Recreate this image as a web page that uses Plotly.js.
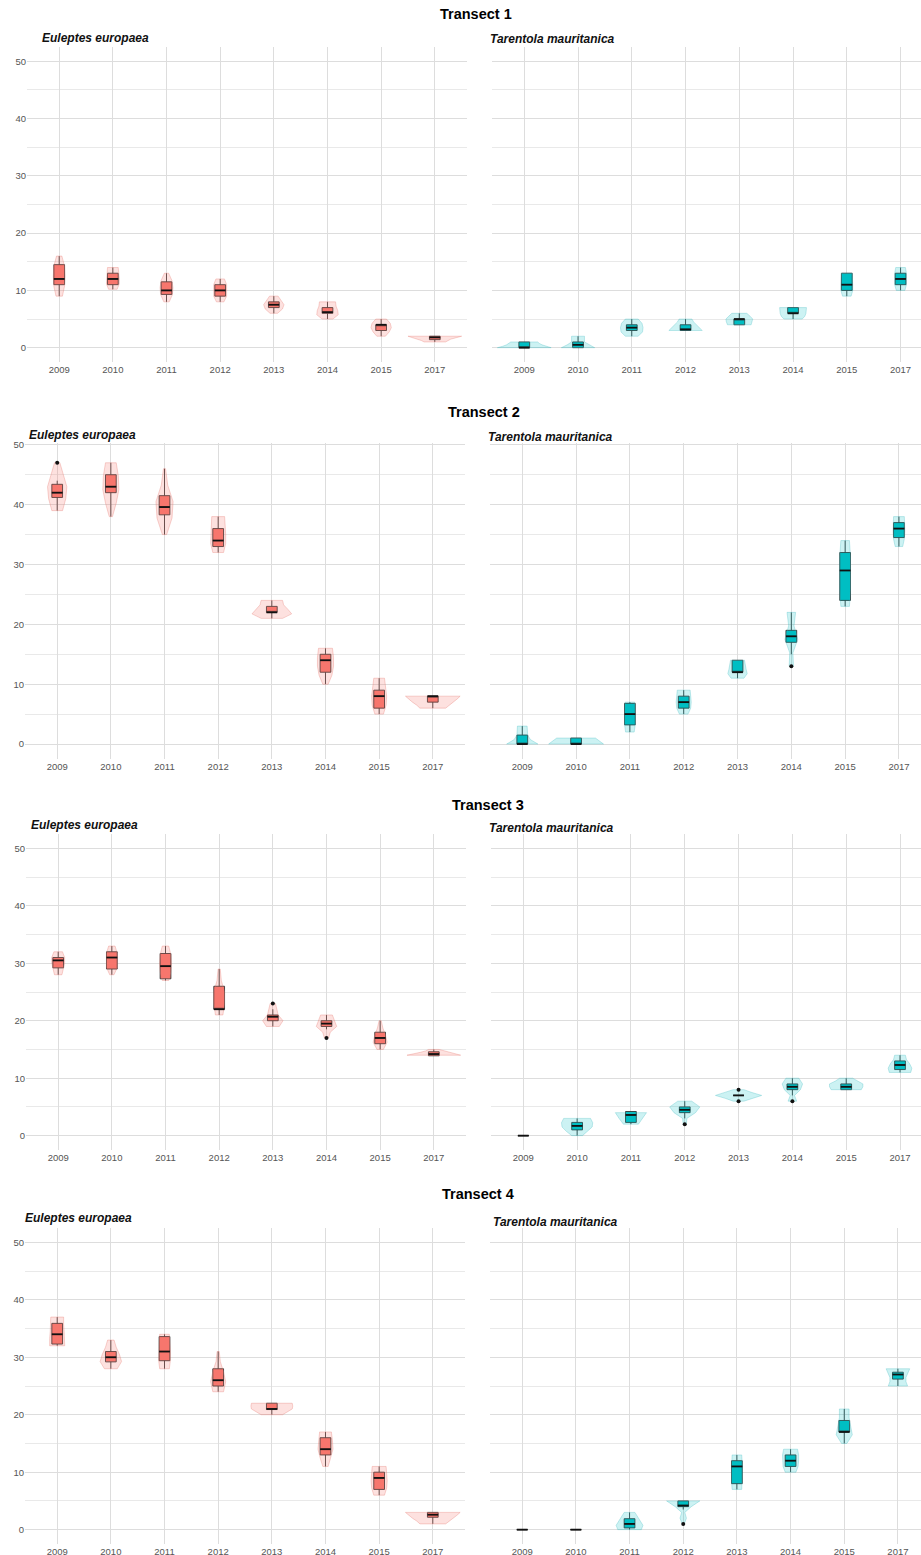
<!DOCTYPE html>
<html><head><meta charset="utf-8">
<script src="https://cdn.plot.ly/plotly-3.0.1.min.js"></script>
<style>html,body{margin:0;padding:0;background:#fff}</style>
</head><body><div id="chart" style="width:921px;height:1555px"></div>
<script>
const YEARS = ['2009','2010','2011','2012','2013','2014','2015','2017'];
const SPECIES = ['Euleptes europaea','Tarentola mauritanica'];
const TRANSECTS = ['Transect 1','Transect 2','Transect 3','Transect 4'];

// ---- Transect 1, Euleptes europaea ----
const T1E_q1  = [11, 11, 9.3, 9, 7, 6, 3, 1.4];
const T1E_med = [12, 12, 10, 10, 7.5, 6.2, 4, 1.8];
const T1E_q3  = [14.5, 13, 11.5, 11, 8, 7, 4, 2];
const T1E_lo  = [9, 10.2, 8, 8, 6, 5, 2, 1];
const T1E_hi  = [16, 14, 13, 12, 9, 8, 5, 2];
const T1E_out = [];
const T1E_vw  = [[0.06,0.1,0.11,0.1,0.05],[0.08,0.12,0.12,0.11,0.1],[0.05,0.11,0.12,0.1,0.04],[0.07,0.12,0.12,0.12,0.08],
                 [0.07,0.16,0.19,0.14,0.08],[0.1,0.2,0.19,0.16,0.15],[0.08,0.15,0.19,0.17,0.1],[0.2,0.25,0.3,0.4,0.5]];
// ---- Transect 1, Tarentola mauritanica ----
const T1T_q1  = [0, 0, 3, 3, 4, 6, 10, 11];
const T1T_med = [0, 0.5, 3.5, 3.2, 5, 6, 11, 12];
const T1T_q3  = [1, 1, 4, 4, 5, 7, 13, 13];
const T1T_lo  = [0, 0, 2, 3, 4, 5, 9, 10];
const T1T_hi  = [1, 2, 5, 5, 6, 7, 13, 14];
const T1T_out = [];
const T1T_vw  = [[0.5,0.4,0.33,0.28,0.25],[0.31,0.2,0.12,0.12,0.12],[0.12,0.2,0.21,0.19,0.12],[0.31,0.25,0.2,0.15,0.12],
                 [0.22,0.24,0.25,0.2,0.14],[0.17,0.22,0.24,0.25,0.25],[0.08,0.11,0.11,0.11,0.1],[0.08,0.11,0.11,0.11,0.09]];
// ---- Transect 2, Euleptes europaea ----
const T2E_q1  = [41.2, 42, 38.3, 33, 22, 12, 6, 7];
const T2E_med = [42, 43, 39.6, 34, 22, 14, 8, 8];
const T2E_q3  = [43.4, 45, 41.5, 36, 23, 15, 9, 8];
const T2E_lo  = [39, 38, 35, 32, 21, 10, 5, 6];
const T2E_hi  = [44, 47, 46, 38, 24, 16, 11, 8];
const T2E_out = [[0, 47]];
const T2E_vw  = [[0.1,0.16,0.18,0.12,0.05],[0.03,0.1,0.15,0.14,0.1],[0.04,0.14,0.16,0.06,0.02],[0.1,0.14,0.14,0.13,0.12],
                 [0.2,0.37,0.3,0.22,0.2],[0.05,0.12,0.15,0.15,0.13],[0.08,0.13,0.14,0.12,0.1],[0.24,0.3,0.38,0.45,0.51]];
// ---- Transect 2, Tarentola mauritanica ----
const T2T_q1  = [0, 0, 3.2, 6, 12, 17, 24, 34.5];
const T2T_med = [0, 0, 5, 7, 12, 18, 29, 36];
const T2T_q3  = [1.5, 1, 6.8, 8, 14, 19, 32, 37];
const T2T_lo  = [0, 0, 2, 5, 11, 15, 23, 33];
const T2T_hi  = [3, 1, 7, 9, 14, 22, 34, 38];
const T2T_out = [[5, 13]];
const T2T_vw  = [[0.29,0.15,0.1,0.09,0.09],[0.51,0.47,0.43,0.4,0.36],[0.08,0.1,0.1,0.1,0.09],[0.08,0.13,0.14,0.13,0.12],
                 [0.12,0.18,0.16,0.14,0.13],[0.04,0.03,0.12,0.05,0.08],[0.08,0.1,0.1,0.1,0.08],[0.07,0.1,0.11,0.11,0.1]];
// ---- Transect 3, Euleptes europaea ----
const T3E_q1  = [29.2, 29, 27.3, 22, 20, 19, 16, 13.9];
const T3E_med = [30.5, 31, 29.5, 22, 20.7, 19.5, 17, 14.2];
const T3E_q3  = [31, 32, 31.7, 26, 21, 20, 18, 14.6];
const T3E_lo  = [28, 28, 27, 21, 19, 18.5, 15, 14];
const T3E_hi  = [32, 33, 33, 29, 22, 21, 20, 15];
const T3E_out = [[4, 23], [5, 17]];
const T3E_vw  = [[0.07,0.1,0.12,0.12,0.08],[0.04,0.1,0.1,0.1,0.06],[0.06,0.1,0.11,0.1,0.06],[0.07,0.1,0.1,0.04,0.02],
                 [0.12,0.19,0.1,0.08,0.05],[0.04,0.07,0.19,0.15,0.11],[0.06,0.13,0.1,0.05,0.02],[0.5,0.4,0.25,0.15,0.1]];
// ---- Transect 3, Tarentola mauritanica ----
const T3T_q1  = [0, 1, 2.3, 4, 7, 8, 8, 11.5];
const T3T_med = [0, 1.7, 3.6, 4.5, 7, 8.5, 8.5, 12.3];
const T3T_q3  = [0, 2.3, 4.2, 5, 7, 9, 9, 13];
const T3T_lo  = [0, 0, 2, 3, 7, 7, 8, 11];
const T3T_hi  = [0, 3, 4, 6, 7, 10, 10, 14];
const T3T_out = [[3, 2], [4, 6], [4, 8], [5, 6]];
const T3T_vw  = [[0,0,0,0,0],[0.1,0.2,0.28,0.29,0.25],[0.14,0.18,0.22,0.26,0.29],[0.03,0.04,0.2,0.28,0.13],
                 [0.1,0.25,0.43,0.25,0.1],[0.08,0.04,0.15,0.19,0.12],[0.28,0.31,0.31,0.2,0.12],[0.2,0.22,0.18,0.12,0.1]];
// ---- Transect 4, Euleptes europaea ----
const T4E_q1  = [32.3, 29.2, 29.4, 25, 20.9, 13, 7, 2.15];
const T4E_med = [34, 30, 31, 26, 21, 14, 9, 2.6];
const T4E_q3  = [35.9, 31, 33.6, 28, 22, 16, 10, 3];
const T4E_lo  = [32, 28, 28, 24, 20, 11, 6, 1];
const T4E_hi  = [37, 33, 34, 31, 22, 17, 11, 3];
const T4E_out = [];
const T4E_vw  = [[0.14,0.14,0.13,0.12,0.12],[0.12,0.2,0.16,0.1,0.06],[0.09,0.11,0.11,0.1,0.09],[0.1,0.14,0.1,0.04,0.02],
                 [0.2,0.3,0.38,0.39,0.38],[0.05,0.1,0.14,0.13,0.11],[0.1,0.14,0.15,0.14,0.13],[0.24,0.3,0.38,0.45,0.51]];
// ---- Transect 4, Tarentola mauritanica ----
const T4T_q1  = [0, 0, 0.3, 4, 8, 11, 17, 26.2];
const T4T_med = [0, 0, 1, 4.2, 11, 12, 17, 27];
const T4T_q3  = [0, 0, 1.9, 5, 12, 13, 19, 27.4];
const T4T_lo  = [0, 0, 0, 3.5, 7, 10, 15, 25];
const T4T_hi  = [0, 0, 3, 5, 13, 14, 21, 28];
const T4T_out = [[3, 1]];
const T4T_vw  = [[0,0,0,0,0],[0,0,0,0,0],[0.22,0.25,0.2,0.15,0.1],[0.02,0.06,0.03,0.15,0.31],
                 [0.09,0.1,0.1,0.1,0.09],[0.1,0.14,0.15,0.15,0.13],[0.05,0.15,0.12,0.09,0.09],[0.18,0.15,0.15,0.18,0.22]];

const PANELS = [
  [T1E_q1,T1E_med,T1E_q3,T1E_lo,T1E_hi,T1E_out,T1E_vw],
  [T1T_q1,T1T_med,T1T_q3,T1T_lo,T1T_hi,T1T_out,T1T_vw],
  [T2E_q1,T2E_med,T2E_q3,T2E_lo,T2E_hi,T2E_out,T2E_vw],
  [T2T_q1,T2T_med,T2T_q3,T2T_lo,T2T_hi,T2T_out,T2T_vw],
  [T3E_q1,T3E_med,T3E_q3,T3E_lo,T3E_hi,T3E_out,T3E_vw],
  [T3T_q1,T3T_med,T3T_q3,T3T_lo,T3T_hi,T3T_out,T3T_vw],
  [T4E_q1,T4E_med,T4E_q3,T4E_lo,T4E_hi,T4E_out,T4E_vw],
  [T4T_q1,T4T_med,T4T_q3,T4T_lo,T4T_hi,T4T_out,T4T_vw]
];

// ---------- layout geometry (pixels) ----------
const W = 921, H = 1555;
const ROWS = [
  {top:47,  bot:362,  yr:[-2.5,52.5], left:[27,467], right:[492,921], rmax:7.38, title:[476,14],  sub:[[40,38],[488,39]]},
  {top:443, bot:759,  yr:[-2.5,50.3], left:[25,465], right:[490,921], rmax:7.41, title:[484,412], sub:[[27,435],[486,437]]},
  {top:834, bot:1150, yr:[-2.5,52.5], left:[26,466], right:[491,921], rmax:7.39, title:[488,805], sub:[[29,825],[487,828]]},
  {top:1228,bot:1544, yr:[-2.5,52.5], left:[25,465], right:[490,921], rmax:7.43, title:[478,1194],sub:[[23,1218],[491,1222]]}
];
const COLORS = [
  {box:'#F8766D', vf:'rgba(248,118,109,0.22)', vl:'rgba(230,120,112,0.55)'},
  {box:'#00BFC4', vf:'rgba(0,191,196,0.2)',  vl:'rgba(60,185,190,0.5)'}
];
const FONT = 'Liberation Sans, Arial, sans-serif';
const idx = YEARS.map((_,i)=>i);

const traces = [];
const layout = {
  width: W, height: H, margin:{l:0,r:0,t:0,b:0}, showlegend:false,
  paper_bgcolor:'#fff', plot_bgcolor:'#fff', annotations:[]
};

PANELS.forEach((p, n) => {
  const [q1, med, q3, lo, hi, out, vw] = p;
  const row = ROWS[Math.floor(n/2)];
  const side = n % 2;
  const col = COLORS[side];
  const ax = n === 0 ? '' : String(n+1);
  const xa = 'x'+ax, ya = 'y'+ax;

  // violin outlines
  const vx = [], vy = [];
  idx.forEach(i => {
    const outs = out.filter(o => o[0] === i).map(o => o[1]);
    const a = Math.min(lo[i], ...outs), b = Math.max(hi[i], ...outs);
    const w = vw[i];
    if (b <= a || Math.max(...w) === 0) return;
    const m = w.length;
    const lev = w.map((_,k) => a + (b - a) * k / (m - 1));
    for (let k = 0; k < m; k++) { vx.push(i + w[k]); vy.push(lev[k]); }
    for (let k = m - 1; k >= 0; k--) { vx.push(i - w[k]); vy.push(lev[k]); }
    vx.push(i + w[0]); vy.push(lev[0]);
    vx.push(null); vy.push(null);
  });
  traces.push({type:'scatter', mode:'lines', x:vx, y:vy, xaxis:xa, yaxis:ya, fill:'toself',
    fillcolor:col.vf, line:{color:col.vl, width:0.6}, hoverinfo:'skip', connectgaps:false});

  // boxes
  traces.push({type:'box', x:idx, q1:q1, median:med, q3:q3, lowerfence:lo, upperfence:hi,
    xaxis:xa, yaxis:ya, width:0.2, whiskerwidth:0, boxpoints:false,
    fillcolor:col.box, line:{color:'#333333', width:0.9}, hoverinfo:'skip'});

  // thicker median bars
  const mx = [], my = [];
  idx.forEach(i => { mx.push(i-0.1, i+0.1, null); my.push(med[i], med[i], null); });
  traces.push({type:'scatter', mode:'lines', x:mx, y:my, xaxis:xa, yaxis:ya,
    line:{color:'#111', width:1.8}, hoverinfo:'skip'});

  // outliers
  if (out.length) {
    traces.push({type:'scatter', mode:'markers', x:out.map(o=>o[0]), y:out.map(o=>o[1]),
      xaxis:xa, yaxis:ya, marker:{color:'#111', size:4}, hoverinfo:'skip'});
  }

  const xr = side === 0 ? row.left : row.right;
  layout['xaxis'+ax] = {
    domain:[xr[0]/W, xr[1]/W], anchor:ya, range:[-0.6, side === 0 ? 7.6 : row.rmax],
    tickmode:'array', tickvals:idx, ticktext:YEARS, showgrid:true, gridcolor:'#dddddd', gridwidth:1,
    zeroline:false, showline:false, ticks:'', tickfont:{family:FONT, size:9.5, color:'#555'}, fixedrange:true
  };
  layout['yaxis'+ax] = {
    domain:[1 - row.bot/H, 1 - row.top/H], anchor:xa, range:row.yr,
    tickmode:'array', tickvals:[0,10,20,30,40,50], showticklabels: side === 0,
    showgrid:true, gridcolor:'#dddddd', gridwidth:1,
    minor:{tickmode:'array', tickvals:[5,15,25,35,45], showgrid:true, gridcolor:'#e9e9e9', gridwidth:1},
    zeroline:false, showline:false, ticks:'', tickfont:{family:FONT, size:9.5, color:'#555'}, fixedrange:true
  };

  // species subtitle
  layout.annotations.push({text:'<b><i>'+SPECIES[side]+'</i></b>', xref:'paper', yref:'paper',
    x:row.sub[side][0]/W, y:1 - row.sub[side][1]/H, xanchor:'left', yanchor:'middle', showarrow:false,
    font:{family:FONT, size:12, color:'#111'}});
  if (side === 0) {
    layout.annotations.push({text:'<b>'+TRANSECTS[Math.floor(n/2)]+'</b>', xref:'paper', yref:'paper',
      x:row.title[0]/W, y:1 - row.title[1]/H, xanchor:'center', yanchor:'middle', showarrow:false,
      font:{family:FONT, size:14.5, color:'#000'}});
  }
});

Plotly.newPlot('chart', traces, layout, {displayModeBar:false, staticPlot:true});
</script>
</body></html>
